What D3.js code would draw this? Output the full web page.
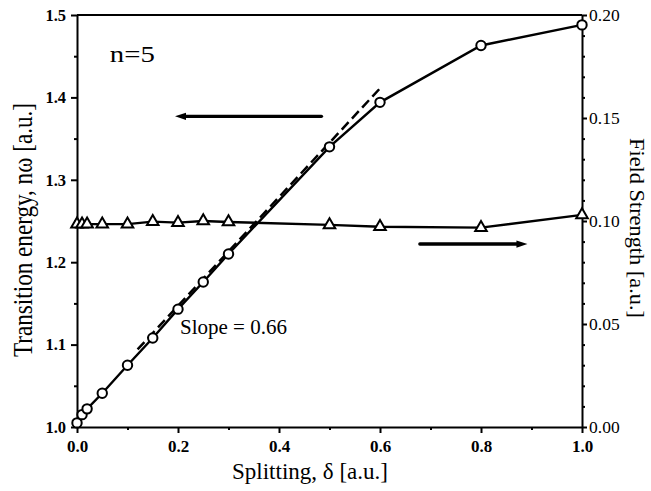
<!DOCTYPE html>
<html>
<head>
<meta charset="utf-8">
<script src="https://cdn.jsdelivr.net/npm/d3@7"></script>
<style>
  html, body { margin: 0; padding: 0; background: #fff; }
  svg { display: block; }
  text { font-family: "Liberation Serif", "Times New Roman", serif; fill: #000; }
</style>
</head>
<body>
<svg id="chart" width="651" height="491"></svg>
<script>
// Splitting values (x) shared by both series
const splitting = [0, 0.01, 0.02, 0.05, 0.1, 0.15, 0.2, 0.25, 0.3, 0.5, 0.6, 0.8, 1.0];
// Transition energy n·ω (left axis), circles
const transitionEnergy = [1.005, 1.015, 1.022, 1.041, 1.075, 1.108, 1.143, 1.176, 1.210, 1.340, 1.394, 1.463, 1.488];
// Field strength (right axis), triangles
const fieldStrength = [0.0985, 0.0985, 0.0985, 0.0985, 0.0985, 0.0997, 0.0992, 0.1000, 0.0995, 0.0981, 0.0972, 0.0968, 0.1030];

// Linear fit of the small-splitting region
const fitSlope = 0.66;
const fitIntercept = 1.015;
const fitRange = [0.12, 0.6];

// Tick values
const xTicks = [0, 0.2, 0.4, 0.6, 0.8, 1.0];
const xMinor = [0.1, 0.3, 0.5, 0.7, 0.9];
const leftTicks = [1.0, 1.1, 1.2, 1.3, 1.4, 1.5];
const leftMinor = [1.05, 1.15, 1.25, 1.35, 1.45];
const rightTicks = [0, 0.05, 0.10, 0.15, 0.20];
const rightMinor = [0.01, 0.02, 0.03, 0.04, 0.06, 0.07, 0.08, 0.09, 0.11, 0.12, 0.13, 0.14, 0.16, 0.17, 0.18, 0.19];

// Arrows pointing to the axis each series belongs to
const leftArrow = { from: [0.484, 1.377], to: [0.194, 1.377] };   // left-axis units
const rightArrow = { from: [0.679, 0.0888], to: [0.892, 0.0888] }; // right-axis units

const FONT = "'Liberation Serif', 'Times New Roman', serif";
const svg = d3.select("#chart");
const L = 77, R = 582, T = 15, B = 427;

const x = d3.scaleLinear([0, 1], [L, R]);
const yL = d3.scaleLinear([1.0, 1.5], [B, T]);
const yR = d3.scaleLinear([0, 0.2], [B, T]);

// ---- axes ----
function styleAxis(g) {
  g.attr("font-family", FONT);
  g.select(".domain").attr("stroke", "#000").attr("stroke-width", 2);
  g.selectAll(".tick line").attr("stroke", "#000").attr("stroke-width", 2);
}

// bottom
svg.append("g").attr("transform", `translate(0,${B})`)
  .call(d3.axisBottom(x).tickValues(xMinor).tickSize(3).tickSizeOuter(0).tickFormat(""))
  .call(styleAxis).call(g => g.select(".domain").remove());
svg.append("g").attr("transform", `translate(0,${B})`)
  .call(d3.axisBottom(x).tickValues(xTicks).tickSize(6).tickSizeOuter(0).tickPadding(7).tickFormat(d3.format(".1f")))
  .call(styleAxis)
  .call(g => g.selectAll("text").attr("font-size", 17).attr("font-weight", "bold").style("font-family", FONT));

// left
svg.append("g").attr("transform", `translate(${L},0)`)
  .call(d3.axisLeft(yL).tickValues(leftMinor).tickSize(3).tickSizeOuter(0).tickFormat(""))
  .call(styleAxis).call(g => g.select(".domain").remove());
svg.append("g").attr("transform", `translate(${L},0)`)
  .call(d3.axisLeft(yL).tickValues(leftTicks).tickSize(6).tickSizeOuter(0).tickPadding(5).tickFormat(d3.format(".1f")))
  .call(styleAxis)
  .call(g => g.selectAll("text").attr("font-size", 16.5).attr("font-weight", "bold").style("font-family", FONT));

// right
svg.append("g").attr("transform", `translate(${R},0)`)
  .call(d3.axisRight(yR).tickValues(rightMinor).tickSize(3).tickSizeOuter(0).tickFormat(""))
  .call(styleAxis).call(g => g.select(".domain").remove());
svg.append("g").attr("transform", `translate(${R},0)`)
  .call(d3.axisRight(yR).tickValues(rightTicks).tickSize(5).tickSizeOuter(0).tickPadding(2).tickFormat(d3.format(".2f")))
  .call(styleAxis)
  .call(g => g.selectAll("text").attr("font-size", 17.5).style("font-family", FONT));

// top frame line
svg.append("line").attr("x1", L).attr("x2", R).attr("y1", T).attr("y2", T)
  .attr("stroke", "#000").attr("stroke-width", 2);

// ---- linear fit (dashed) ----
const fitPts = fitRange.map(d => [d, fitIntercept + fitSlope * d]);
svg.append("path")
  .attr("d", d3.line().x(d => x(d[0])).y(d => yL(d[1]))(fitPts))
  .attr("fill", "none").attr("stroke", "#000").attr("stroke-width", 2.5)
  .attr("stroke-dasharray", "10,5");

// ---- series lines ----
const energyData = splitting.map((d, i) => [d, transitionEnergy[i]]);
const fieldData = splitting.map((d, i) => [d, fieldStrength[i]]);

svg.append("path")
  .attr("d", d3.line().x(d => x(d[0])).y(d => yL(d[1]))(energyData))
  .attr("fill", "none").attr("stroke", "#000").attr("stroke-width", 2.4);
svg.append("path")
  .attr("d", d3.line().x(d => x(d[0])).y(d => yR(d[1]))(fieldData))
  .attr("fill", "none").attr("stroke", "#000").attr("stroke-width", 2.4);

// ---- markers ----
svg.append("g").selectAll("path").data(fieldData).join("path")
  .attr("d", d3.symbol(d3.symbolTriangle, 58))
  .attr("transform", d => `translate(${x(d[0])},${yR(d[1])})`)
  .attr("fill", "#fff").attr("stroke", "#000").attr("stroke-width", 2);

svg.append("g").selectAll("circle").data(energyData).join("circle")
  .attr("cx", d => x(d[0])).attr("cy", d => yL(d[1])).attr("r", 4.7)
  .attr("fill", "#fff").attr("stroke", "#000").attr("stroke-width", 2);

// ---- arrows ----
function arrow(a, yScale) {
  const x1 = x(a.from[0]), y1 = yScale(a.from[1]);
  const x2 = x(a.to[0]), y2 = yScale(a.to[1]);
  const dir = Math.sign(x2 - x1);
  const head = 11, hw = 3.6;
  svg.append("line")
    .attr("x1", x1).attr("y1", y1).attr("x2", x2 - dir * (head - 2)).attr("y2", y2)
    .attr("stroke", "#000").attr("stroke-width", 3.4).attr("stroke-linecap", "round");
  svg.append("path")
    .attr("d", `M${x2},${y2} L${x2 - dir * head},${y2 - hw} L${x2 - dir * head},${y2 + hw} Z`)
    .attr("fill", "#000");
}
arrow(leftArrow, yL);
arrow(rightArrow, yR);

// ---- annotations ----
svg.append("text")
  .attr("x", x(0.065)).attr("y", yL(1.443))
  .attr("font-size", 24).attr("textLength", 45).attr("lengthAdjust", "spacingAndGlyphs")
  .text("n=5");

svg.append("text")
  .attr("x", x(0.204)).attr("y", yL(1.113))
  .attr("font-size", 21)
  .text(`Slope = ${fitSlope.toFixed(2)}`);

// ---- axis titles ----
svg.append("text")
  .attr("transform", "translate(310,479)")
  .attr("text-anchor", "middle").attr("font-size", 24)
  .attr("textLength", 156).attr("lengthAdjust", "spacingAndGlyphs")
  .text("Splitting, δ [a.u.]");

svg.append("text")
  .attr("transform", "translate(32,230) rotate(-90)")
  .attr("text-anchor", "middle").attr("font-size", 28)
  .attr("textLength", 254).attr("lengthAdjust", "spacingAndGlyphs")
  .text("Transition energy, nω [a.u.]");

svg.append("text")
  .attr("transform", "translate(630,228) rotate(90)")
  .attr("text-anchor", "middle").attr("font-size", 22)
  .attr("textLength", 180).attr("lengthAdjust", "spacingAndGlyphs")
  .text("Field Strength [a.u.]");
</script>
</body>
</html>
